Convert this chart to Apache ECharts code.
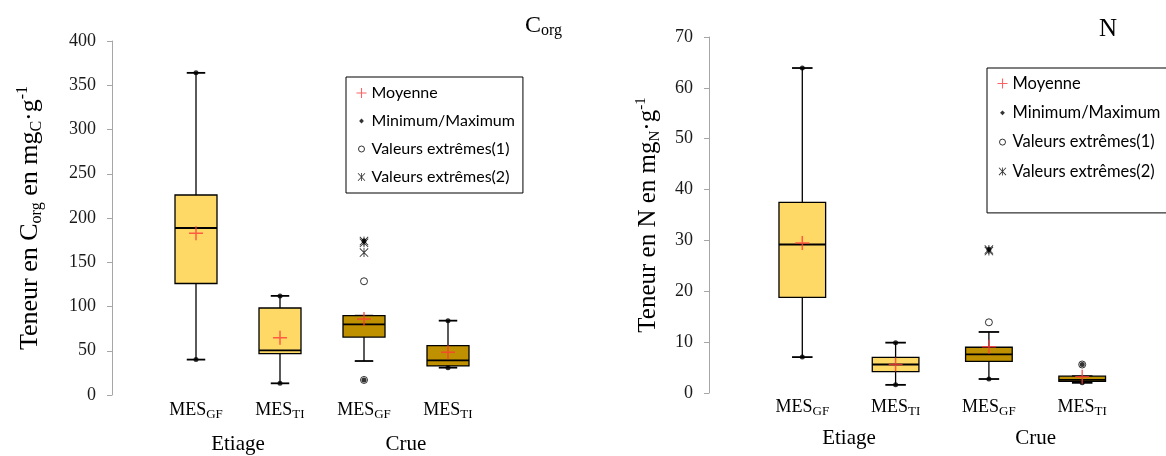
<!DOCTYPE html>
<html>
<head>
<meta charset="utf-8">
<script src="https://cdn.jsdelivr.net/npm/echarts@6/dist/echarts.min.js"></script>
<style>html,body{margin:0;padding:0;background:#fff}#c{width:1166px;height:456px}</style>
</head>
<body>
<div id="c"></div>
<script>
// ---------- data ----------
const categories = ['MES_GF', 'MES_TI', 'MES_GF', 'MES_TI'];
const categorySeason = [0, 0, 1, 1];
const seasons = ['Etiage', 'Crue'];
const legendNames = ['Moyenne', 'Minimum/Maximum', 'Valeurs extrêmes(1)', 'Valeurs extrêmes(2)'];

// Corg : [whisker low, Q1, median, Q3, whisker high]
const corgBoxes = [
  [40, 126, 188.7, 226, 364],
  [13.2, 46.7, 50.5, 98.3, 112],
  [38.4, 65.5, 79.9, 89.6, 89.6],
  [30.9, 32.8, 39.2, 55.7, 84]
];
const corgMean = [182.7, 64.8, 85.9, 48.2];
const corgMin = [40, 13.2, 17, 30.9];
const corgMax = [364, 112, 174, 84];
const corgExt1 = [[3, 128.5], [3, 17]];
const corgExt2 = [[3, 174], [3, 172], [3, 161]];
const corgAxis = { min: 0, max: 400, interval: 50 };

// N
const nBoxes = [
  [7.06, 18.8, 29.2, 37.5, 63.9],
  [1.6, 4.2, 5.6, 7.0, 9.9],
  [2.75, 6.2, 7.6, 9.0, 12.0],
  [2.0, 2.3, 2.6, 3.3, 3.3]
];
const nMean = [29.5, 5.6, 9.1, 3.2];
const nMin = [7.06, 1.6, 2.75, 2.0];
const nMax = [63.9, 9.9, 28.2, 5.6];
const nExt1 = [[3, 13.9], [4, 5.6]];
const nExt2 = [[3, 28.2], [3, 27.9]];
const nAxis = { min: 0, max: 70, interval: 10 };

// ---------- styling ----------
const SERIF = 'Liberation Serif';
const SANS = 'Lato';
const seasonFill = ['#FFD966', '#BF9000'];
const PLUS = 'path://M6.25,0h1.5v6.25h6.25v1.5h-6.25v6.25h-1.5v-6.25h-6.25v-1.5h6.25z';
const STAR = 'path://M4.5,0h1v10h-1zM0,0.7L0.7,0L10,9.3L9.3,10zM9.3,0L10,0.7L0.7,10L0,9.3z';
const DOT_ICON = 'path://M0,0M10,10M5,2.6L7.4,5L5,7.4L2.6,5z';
const RING_ICON = 'path://M0,0M10,10M5,2A3,3,0,1,1,5,8A3,3,0,1,1,5,2z';
const STAR_ICON = 'path://M0,0M10,10M4.6,1h0.8v8h-0.8zM1.2,1.6L1.8,1L8.8,8.4L8.2,9zM8.2,1L8.8,1.6L1.8,9L1.2,8.4z';

function catLabel(v) {
  const i = Math.round(v);
  if (Math.abs(v - i) > 1e-6 || i < 1 || i > categories.length) return '';
  const parts = categories[i - 1].split('_');
  return '{m|' + parts[0] + '}{s|' + parts[1] + '}';
}
function seasonLabel(v) {
  for (let k = 0; k < seasons.length; k++) {
    if (Math.abs(v - (1.5 + 2 * k)) < 1e-6) return '{e|' + seasons[k] + '}';
  }
  return '';
}

function boxRenderer(params, api) {
  const i = params.dataIndex;
  const x = api.value(0);
  const pLo = api.coord([x, api.value(1)]);
  const pQ1 = api.coord([x, api.value(2)]);
  const pMd = api.coord([x, api.value(3)]);
  const pQ3 = api.coord([x, api.value(4)]);
  const pHi = api.coord([x, api.value(5)]);
  const unit = api.size([1, 0])[0];
  const bw = unit * 0.5, cw = unit * 0.22;
  const cx = pMd[0];
  const line = (x1, y1, x2, y2, w) => ({ type: 'line', shape: { x1, y1, x2, y2 }, style: { stroke: '#000', lineWidth: w } });
  return {
    type: 'group',
    children: [
      line(cx, pHi[1], cx, pQ3[1], 1.3),
      line(cx, pQ1[1], cx, pLo[1], 1.3),
      line(cx - cw / 2, pHi[1], cx + cw / 2, pHi[1], 1.8),
      line(cx - cw / 2, pLo[1], cx + cw / 2, pLo[1], 1.8),
      { type: 'rect', shape: { x: cx - bw / 2, y: pQ3[1], width: bw, height: pQ1[1] - pQ3[1] },
        style: { fill: seasonFill[categorySeason[i]], stroke: '#000', lineWidth: 1.3 } },
      line(cx - bw / 2, pMd[1], cx + bw / 2, pMd[1], 1.8)
    ]
  };
}

function makeSeries(xi, yi, boxes, mean, mins, maxs, ext1, ext2) {
  return [
    { type: 'custom', xAxisIndex: xi, yAxisIndex: yi, z: 2, silent: true,
      renderItem: boxRenderer, encode: { x: 0, y: [1, 2, 3, 4, 5] },
      data: boxes.map((b, i) => [i + 1].concat(b)) },
    { type: 'scatter', name: legendNames[2], xAxisIndex: xi, yAxisIndex: yi, z: 3, silent: true,
      symbol: 'circle', symbolSize: 7,
      itemStyle: { color: '#fff', borderColor: '#000', borderWidth: 1 },
      data: ext1 },
    { type: 'scatter', name: legendNames[1], xAxisIndex: xi, yAxisIndex: yi, z: 4, silent: true,
      symbol: 'circle', symbolSize: 5, itemStyle: { color: '#000' },
      data: mins.map((v, i) => [i + 1, v]).concat(maxs.map((v, i) => [i + 1, v])) },
    { type: 'scatter', name: legendNames[3], xAxisIndex: xi, yAxisIndex: yi, z: 5, silent: true,
      symbol: STAR, symbolSize: 9, itemStyle: { color: '#000' },
      data: ext2 },
    { type: 'scatter', name: legendNames[0], xAxisIndex: xi, yAxisIndex: yi, z: 6, silent: true,
      symbol: PLUS, symbolSize: 14, itemStyle: { color: '#FF3B3B' },
      data: mean.map((v, i) => [i + 1, v]) }
  ];
}

function yAxisOf(gi, ax, name, gap, fs, sfs) {
  return {
    type: 'value', gridIndex: gi, min: ax.min, max: ax.max, interval: ax.interval,
    splitLine: { show: false },
    axisLine: { show: true, lineStyle: { color: '#a6a6a6', width: 1 } },
    axisTick: { show: true, length: 5, lineStyle: { color: '#a6a6a6' } },
    axisLabel: {
      margin: 16, fontFamily: SERIF, fontSize: 18, color: '#1a1a1a',
      formatter: v => '{t|' + v + '}',
      rich: { t: { fontFamily: SERIF, fontSize: 18, color: '#1a1a1a' } }
    },
    name: name, nameLocation: 'middle', nameRotate: 90, nameGap: gap,
    nameTextStyle: {
      fontFamily: SERIF, fontSize: fs, lineHeight: fs + 4, color: '#000',
      rich: {
        s: { fontFamily: SERIF, fontSize: sfs, lineHeight: sfs, verticalAlign: 'bottom', color: '#000' },
        p: { fontFamily: SERIF, fontSize: sfs, lineHeight: sfs, verticalAlign: 'top', color: '#000' }
      }
    }
  };
}
function xAxesOf(gi, max, catMargin, seasonMargin) {
  const base = {
    type: 'value', gridIndex: gi, min: 0, max: max, position: 'bottom',
    splitLine: { show: false }, axisLine: { show: false }, axisTick: { show: false }
  };
  return [
    Object.assign({}, base, {
      interval: 1,
      axisLabel: {
        margin: catMargin, formatter: catLabel, showMinLabel: true, showMaxLabel: true,
        rich: {
          m: { fontFamily: SERIF, fontSize: 18, lineHeight: 22, color: '#000' },
          s: { fontFamily: SERIF, fontSize: 13, lineHeight: 12, verticalAlign: 'bottom', color: '#000' }
        }
      }
    }),
    Object.assign({}, base, {
      interval: 0.5,
      axisLabel: {
        margin: seasonMargin, formatter: seasonLabel,
        rich: { e: { fontFamily: SERIF, fontSize: 21, lineHeight: 24, color: '#000' } }
      }
    })
  ];
}
function legendOf(left, top, padding, fontSize, gap) {
  return {
    orient: 'vertical', left: left, top: top, padding: padding, itemGap: gap,
    itemWidth: 10, itemHeight: 10,
    borderColor: '#000', borderWidth: 1, backgroundColor: '#fff',
    selectedMode: false,
    textStyle: { fontFamily: SANS, fontSize: fontSize, color: '#000', lineHeight: 16 },
    data: [
      { name: legendNames[0], icon: PLUS, itemStyle: { color: '#FF3B3B' } },
      { name: legendNames[1], icon: DOT_ICON, itemStyle: { color: '#000', borderWidth: 0 } },
      { name: legendNames[2], icon: RING_ICON, itemStyle: { color: '#fff', borderColor: '#000', borderWidth: 1 } },
      { name: legendNames[3], icon: STAR_ICON, itemStyle: { color: '#000', borderWidth: 0 } }
    ]
  };
}

const titleRich = { s: { fontFamily: SERIF, fontSize: 16, lineHeight: 14, verticalAlign: 'bottom', color: '#000' } };

const option = {
  animation: false,
  backgroundColor: '#fff',
  title: [
    { text: 'C{s|org}', left: 525, top: 12, padding: 0,
      textStyle: { fontFamily: SERIF, fontSize: 24, fontWeight: 'normal', lineHeight: 27, color: '#000', rich: titleRich } },
    { text: 'N', left: 1099, top: 15, padding: 0,
      textStyle: { fontFamily: SERIF, fontSize: 25, fontWeight: 'normal', lineHeight: 28, color: '#000' } }
  ],
  legend: [
    legendOf(346, 77, [8, 8, 8, 10], 16, 12),
    legendOf(987, 68, [7, 40, 33, 10], 16.5, 12.3)
  ],
  grid: [
    { left: 112, top: 41, width: 84 * 4.6, height: 354 },
    { left: 709, top: 37, width: 93.3 * 4.6, height: 356 }
  ],
  xAxis: xAxesOf(0, 4.6, 4, 37).concat(xAxesOf(1, 4.6, 3, 33)),
  yAxis: [
    yAxisOf(0, corgAxis, 'Teneur en C{s|org} en mg{s|C}·g{p|-1}', 67, 26, 16),
    yAxisOf(1, nAxis, 'Teneur en N en mg{s|N}·g{p|-1}', 46, 25, 15)
  ],
  series: makeSeries(0, 0, corgBoxes, corgMean, corgMin, corgMax, corgExt1, corgExt2)
    .concat(makeSeries(2, 1, nBoxes, nMean, nMin, nMax, nExt1, nExt2))
};

const chart = echarts.init(document.getElementById('c'), null, { renderer: 'canvas' });
chart.setOption(option);
</script>
</body>
</html>
